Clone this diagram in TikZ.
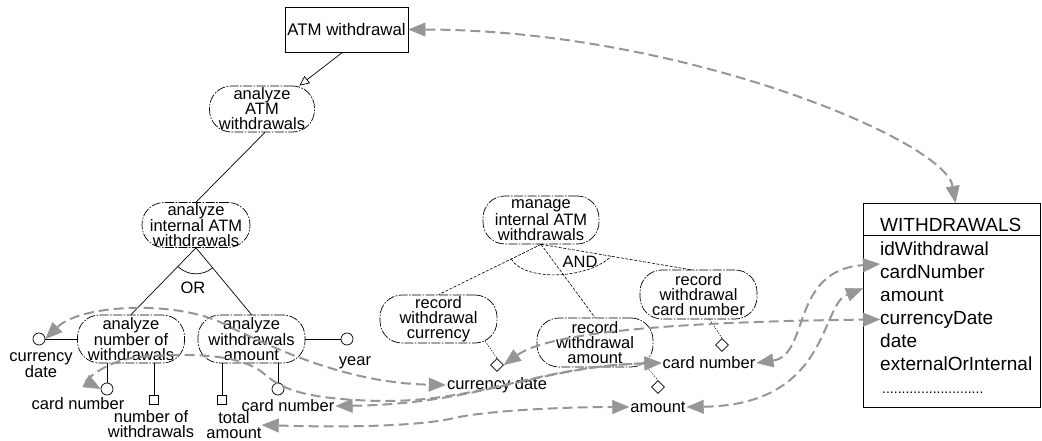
\documentclass[tikz,border=0pt]{standalone}
\usepackage{fontspec}
\setmainfont{Liberation Sans}
\usetikzlibrary{arrows.meta,shapes.geometric,calc}
\definecolor{linkgray}{RGB}{150,150,150}
\newcommand\goalfont{\fontsize{16.5}{15}\selectfont}
\newcommand\lblfont{\fontsize{16.5}{14.5}\selectfont}
\newcommand\tabfont{\fontsize{19}{23}\selectfont}
\begin{document}
\begin{tikzpicture}[x=1pt,y=-1pt,
  goal/.style={draw, rectangle, rounded corners=22pt, line width=0.7pt,
    dash pattern=on 9pt off 1.5pt on 1.5pt off 1.5pt,
    align=center, inner sep=0pt, font=\goalfont},
  attr/.style={draw, circle, minimum size=12pt, inner sep=0pt, line width=0.7pt},
  meas/.style={draw, rectangle, minimum size=9pt, inner sep=0pt, line width=0.7pt},
  opattr/.style={draw, diamond, fill=white, minimum size=13pt, inner sep=0pt, line width=0.6pt},
  lbl/.style={font=\lblfont, align=center, inner sep=1pt},
  field/.style={font=\tabfont, anchor=base west, inner sep=0pt},
  tree/.style={line width=0.7pt},
  optree/.style={line width=0.6pt, dash pattern=on 3pt off 1.5pt},
  dotlink/.style={line width=0.6pt, dash pattern=on 1.2pt off 1.5pt},
  gtip/.tip={Triangle[length=17pt,width=14pt,line width=0.4pt]},
  link/.style={draw=linkgray, line width=2pt, dash pattern=on 10pt off 5pt, gtip-gtip},
]
\useasboundingbox (0,0) rectangle (1042,441);

% goal hierarchy
\node[draw, rectangle, line width=0.8pt, minimum width=123pt, minimum height=45pt,
      inner sep=0pt, font=\fontsize{16.8}{14}\selectfont] (atm) at (346.5,29.5) {ATM withdrawal};
\node[goal, minimum width=105pt, minimum height=46pt] (g1) at (262,109) {analyze\\ATM\\withdrawals};
\node[goal, minimum width=108pt, minimum height=45pt] (g2) at (196,225) {analyze\\internal ATM\\withdrawals};
\node[goal, minimum width=107pt, minimum height=48pt] (g3) at (131,339) {analyze\\number of\\withdrawals};
\node[goal, minimum width=107pt, minimum height=48pt] (g4) at (251.5,339) {analyze\\withdrawals\\amount};
\node[goal, minimum width=116pt, minimum height=48pt] (m) at (541,220) {manage\\internal ATM\\withdrawals};
\node[goal, minimum width=117pt, minimum height=48pt] (r1) at (438.5,319) {record\\withdrawal\\currency};
\node[goal, minimum width=116pt, minimum height=49pt] (r2) at (595,342.5) {record\\withdrawal\\amount};
\node[goal, minimum width=117pt, minimum height=49pt] (r3) at (698.5,294.5) {record\\withdrawal\\card number};

\draw[tree, -{Triangle[open,length=10pt,width=9pt]}] (atm.-100) -- (g1.32);
\draw[tree] ($(g1.south)+(3,0)$) -- (g2.north);
\draw[tree] (g2.south) -- (g3.north);
\draw[tree] (g2.south) -- (g4.north);
\draw[tree] ($(g2.south)+(134:26)$) arc[start angle=134, end angle=51, radius=26];
\node[lbl] (orl) at (193,288) {OR};

\draw[optree] (m.south) -- (r1.north);
\draw[optree] (m.south) -- (r2.north);
\draw[optree] (m.south) -- (r3.108);
\coordinate (andL) at ($(m.south)!0.29!(r1.north)$);
\coordinate (andR) at ($(m.south)!0.47!(r3.108)$);
\draw[optree] (andL) .. controls +(12,22) and +(-25,24) .. (andR);
\node[lbl] (andl) at (580,262) {AND};

% attributes of the analysis goals
\node[attr] (cdc) at (39,339) {};
\node[attr] (ccn1) at (107,389) {};
\node[meas] (sq1) at (154,400) {};
\node[meas] (sq2) at (222,400) {};
\node[attr] (ccn2) at (278,389) {};
\node[attr] (cyr) at (347,339) {};
\draw[tree] (g3.west) -- (cdc.east);
\draw[tree] (g3.south -| ccn1.north) -- (ccn1.north);
\draw[tree] (g3.south -| sq1.north) -- (sq1.north);
\draw[tree] (g4.south -| sq2.north) -- (sq2.north);
\draw[tree] (g4.south -| ccn2.north) -- (ccn2.north);
\draw[tree] (g4.east) -- (cyr.west);
\node[lbl] (lcdate) at (41,365) {currency\\date};
\node[lbl] (lcn1) at (78,404) {card number};
\node[lbl, inner sep=0pt] (lnw) at (151,424) {number of\\withdrawals};
\node[lbl, inner sep=0pt] (ltot) at (234,425) {total\\amount};
\node[lbl] (bcn2) at (288,406) {card number};
\node[lbl] (lyr) at (355,363) {year};

% attributes of the operational goals
\node[opattr] (d1) at (497,365) {};
\node[opattr] (d2) at (658,387) {};
\node[opattr] (d3) at (722,345) {};
\draw[dotlink] ($(r1.south east)+(-12,-2)$) -- (d1.north);
\draw[dotlink] ($(r2.south east)+(-8,-2)$) -- (d2.north);
\draw[dotlink] ($(r3.south)+(11,0)$) -- (d3.north);
\node[lbl] (lcd) at (497,385) {currency date};
\node[lbl] (lamt) at (658,407) {amount};
\node[lbl] (lcn) at (709,363) {card number};

% source table
\node[draw, line width=0.8pt, anchor=north west, minimum width=177pt, minimum height=204pt,
      inner sep=0pt] (wtab) at (863,203) {};
\draw[line width=0.7pt] ($(wtab.north west)+(0,32)$) -- ($(wtab.north east)+(0,32)$);
\node[field] (fhead) at (880,231) {WITHDRAWALS};
\node[field] (fid) at (880,255) {idWithdrawal};
\node[field] (fcard) at (880,278) {cardNumber};
\node[field] (famt) at (880,301) {amount};
\node[field] (fcur) at (880,324) {currencyDate};
\node[field] (fdate) at (880,347) {date};
\node[field] (fext) at (880,370) {externalOrInternal};
\node[field] (fdots) at (882,393) {\fontsize{14}{14}\selectfont ..........................};

% mappings
\coordinate (wtop) at ($(wtab.north west)!0.52!(wtab.north east)$);
\draw[link] (atm.east) .. controls (680,30) and (945,140) .. (wtop);
\draw[link] (lcn.east) .. controls (810,355) and (790,270) .. (fcard.north west);
\draw[link] (lamt.east) .. controls (830,405) and (820,305) .. (famt.north west -| wtab.west);
\draw[link] (d1.east) .. controls (545,335) and (650,322) .. (fcur.west);
\draw[link] (cdc.east) .. controls (80,305) and (170,300) .. (220,322)
                       .. controls (280,352) and (350,383) .. (lcd.west);
\draw[link] (ccn1.west) .. controls (86,381) and (105,360) .. (140,357)
                        .. controls (200,352) and (240,356) .. (262,372)
                        .. controls (280,388) and (300,399) .. (380,401)
                        .. controls (480,402) and (540,366) .. (lcn.west);
\draw[link] (bcn2.east) .. controls (480,404) and (540,366) .. (lcn.west);
\draw[link] (ltot.east) .. controls (360,428) and (420,425) .. (450,419)
                        .. controls (480,411) and (560,407) .. (lamt.west);
\end{tikzpicture}
\end{document}
